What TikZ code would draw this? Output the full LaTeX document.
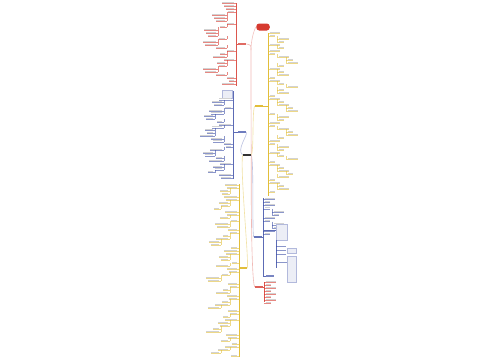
\documentclass[tikz,border=0pt]{standalone}
\usetikzlibrary{calc}
\definecolor{mapred}{HTML}{D63A2F}
\definecolor{mapblue}{HTML}{3F51A8}
\definecolor{mapgold}{HTML}{E2BE3A}
\definecolor{textgray}{HTML}{9A9A9A}

% one column of leaves hanging to the left of a spine
\newcommand\leftleaves[5]{%
  \foreach \d [count=\i] in {#5} {
    \pgfmathsetmacro\yy{#2+\i*#3}
    \pgfmathsetmacro\xr{#1-2-(\d-1)*9}
    \pgfmathsetmacro\ln{5+mod(7*\i,9)}
    \draw[txtbar] (\xr-\ln,\yy-0.9) -- (\xr,\yy-0.9);
    \draw[uline, #4] (\xr-\ln,\yy) -- (\xr+2,\yy);
    \ifnum\d>1 \draw[uline, #4] (\xr+2,\yy-#3) -- (\xr+2,\yy); \fi
  }}
% and the same to the right
\newcommand\rightleaves[5]{%
  \foreach \d [count=\i] in {#5} {
    \pgfmathsetmacro\yy{#2+\i*#3}
    \pgfmathsetmacro\xl{#1+2+(\d-1)*9}
    \pgfmathsetmacro\ln{5+mod(5*\i,10)}
    \draw[txtbar] (\xl,\yy-0.9) -- (\xl+\ln,\yy-0.9);
    \draw[uline, #4] (\xl-2,\yy) -- (\xl+\ln,\yy);
    \ifnum\d>1 \draw[uline, #4] (\xl-2,\yy-#3) -- (\xl-2,\yy); \fi
  }}

\begin{document}
\begin{tikzpicture}[
    x=0.02cm, y=-0.02cm,
    spine/.style={line width=0.45pt},
    link/.style={line width=0.35pt},
    txtbar/.style={line width=0.55pt, textgray!45},
    uline/.style={line width=0.2pt, opacity=0.6},
    bnode/.style={minimum width=0.16cm, minimum height=0.05cm, inner sep=0pt},
    hub/.style={fill=black!80, minimum width=0.16cm, minimum height=0.045cm, inner sep=0pt},
    title/.style={fill=mapred, rounded corners=0.06cm, minimum width=0.27cm, minimum height=0.14cm, inner sep=0pt},
    card/.style={fill=mapblue!10, draw=mapblue!40, line width=0.2pt}
  ]
  \fill[white] (0,0) rectangle (500,360);
  \useasboundingbox (0,0) rectangle (500,360);

  % Central topic and title
  \node[hub] (hub) at (247,155) {};
  \node[title] (title) at (263,27) {};

  % Main branch nodes
  \node[bnode, fill=mapred!75] (redL) at (242,44) {};
  \node[bnode, fill=mapblue!75] (blueL) at (242,132) {};
  \node[bnode, fill=mapgold] (goldL) at (243,268) {};
  \node[bnode, fill=mapgold] (goldR) at (259,106) {};
  \node[bnode, fill=mapblue!80] (blueR) at (258,237) {};
  \node[bnode, fill=mapred!80] (redR) at (259,287) {};
  \node[bnode, fill=mapblue!70] (blueSub) at (270,276) {};

  % Links from the hub
  \draw[link, mapred!35] (hub.east) .. controls (251,150) and (251,60) .. (251,50) .. controls (251,45) .. (redL.east);
  \draw[link, mapblue!35] (hub.west) .. controls (236,150) and (248,135) .. (redL.east |- blueL.east);
  \draw[link, mapgold!45] (hub.west) .. controls (240,170) and (249,262) .. (goldL.east);
  \draw[link, mapgold!45] (hub.east) .. controls (254,150) and (252,112) .. (goldR.west);
  \draw[link, mapblue!35] (hub.east) .. controls (254,165) and (252,230) .. (blueR.west);
  \draw[link, mapred!35] (hub.east) .. controls (251,170) and (251,280) .. (redR.west);
  \draw[link, mapred!30] (title.west) .. controls (254,30) and (251,40) .. (251,50);

  % Left red branch
  \draw[spine, mapred!85] (redL.west) -- (236,44);
  \draw[spine, mapred!85] (236,3) -- (236,86);
  \leftleaves{236}{0}{3}{mapred}{1,1,1,1,2,2,2,1,2,3,3,3,2,3,3,2,1,2,2,1,2,2,3,3,2,1,1,1}

  % Left blue branch
  \draw[spine, mapblue!85] (blueL.west) -- (233,132);
  \draw[spine, mapblue!85] (233,91) -- (233,179);
  \fill[card] (222,90) rectangle (232,98);
  \leftleaves{233}{97}{2.8}{mapblue}{1,2,2,1,2,2,3,3,2,1,2,3,3,3,2,2,1,1,2,3,3,2,2,1,2,2,3,1,1}

  % Left gold branch
  \draw[spine, mapgold] (goldL.west) -- (239,268);
  \draw[spine, mapgold] (239,184) -- (239,357);
  \leftleaves{239}{182}{3}{mapgold}{1,1,2,2,1,1,2,2,3,1,1,2,1,2,2,1,1,2,2,3,3,1,1,1,2,2,1,2,1,1,2,3,3,1,1,2,2,1,1,2,2,3,1,1,2,1,2,2,3,3,1,1,2,1,1,2,3,1}

  % Right gold branch
  \draw[spine, mapgold] (goldR.east) -- (268,106);
  \draw[spine, mapgold] (268,33) -- (268,196);
  \rightleaves{268}{30}{3}{mapgold}{1,1,2,2,1,2,1,1,2,3,3,2,1,2,2,1,1,2,3,2,2,1,1,2,2,3,3,1,2,2,1,1,2,3,3,2,1,1,2,2,1,2,3,1,1,2,2,3,2,1,1,2,2,1}

  % Right blue branch
  \draw[spine, mapblue!85] (blueR.east) -- (263,237);
  \draw[spine, mapblue!85] (263,198) -- (263,276) -- (blueSub.west);
  \rightleaves{263}{196}{3.2}{mapblue}{1,1,1,1,2,2,1,1,2,2,1,1}
  \draw[spine, mapblue!85] (263,230) -- (276,230);
  \fill[card] (276,224) rectangle (287,240);
  \draw[spine, mapblue!85] (276,240) -- (276,268);
  \foreach \yy in {246,250,254} \draw[uline, mapblue] (276,\yy) -- (286,\yy);
  \fill[card] (287,256) rectangle (296,282);
  \fill[card] (287,248) rectangle (296,253);
  \draw[uline, mapblue] (276,262) -- (287,262);

  % Right red branch
  \draw[spine, mapred!85] (redR.east) -- (264,287);
  \draw[spine, mapred!85] (264,282) -- (264,302);
  \rightleaves{264}{279}{3}{mapred}{1,1,1,1,1,1,1,1}
\end{tikzpicture}
\end{document}
